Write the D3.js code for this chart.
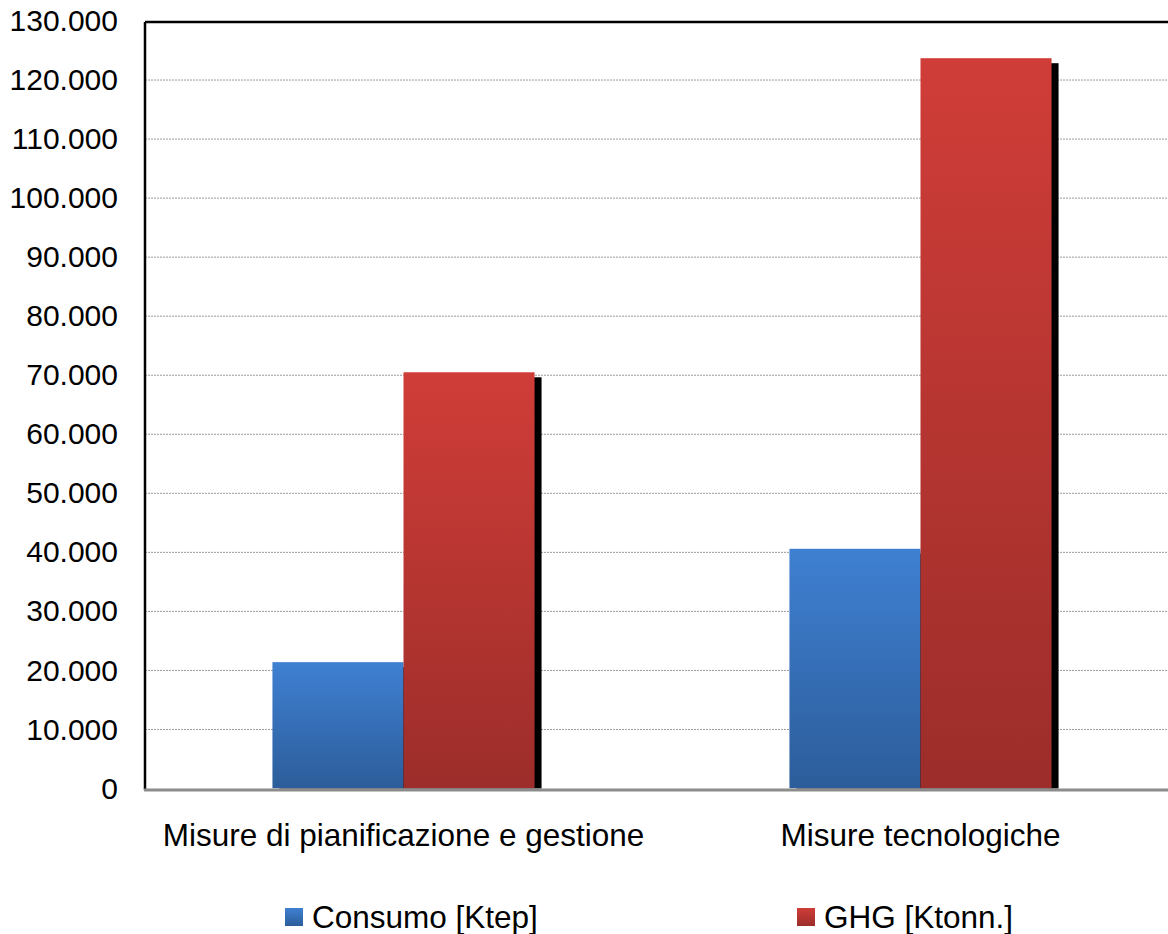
<!DOCTYPE html>
<html>
<head>
<meta charset="utf-8">
<script src="https://cdn.jsdelivr.net/npm/d3@7"></script>
<style>
  html, body { margin: 0; padding: 0; background: #fff; }
  svg { display: block; font-family: "Liberation Sans", Arial, sans-serif; }
</style>
</head>
<body>
<div id="chart"></div>
<script>
const categories = ["Misure di pianificazione e gestione", "Misure tecnologiche"];
const seriesNames = ["Consumo [Ktep]", "GHG [Ktonn.]"];
const consumo = [21400, 40600];
const ghg = [70500, 123700];
const yTicks = [0, 10000, 20000, 30000, 40000, 50000, 60000, 70000, 80000, 90000, 100000, 110000, 120000, 130000];

const W = 1168, H = 934;
const plot = { left: 145, right: 1179, top: 21, bottom: 788.5 };

const locale = d3.formatLocale({ decimal: ",", thousands: ".", grouping: [3], currency: ["€", ""] });
const fmt = locale.format(",d");

const svg = d3.select("#chart").append("svg")
    .attr("width", W)
    .attr("height", H);

const defs = svg.append("defs");
const gradients = [
    { id: "gBlue", top: "#3f80d2", bottom: "#2c5d9a" },
    { id: "gRed", top: "#d03d38", bottom: "#9c2d2a" }
];
gradients.forEach(g => {
    const lg = defs.append("linearGradient")
        .attr("id", g.id)
        .attr("x1", 0).attr("y1", 0).attr("x2", 0).attr("y2", 1);
    lg.append("stop").attr("offset", "0%").attr("stop-color", g.top);
    lg.append("stop").attr("offset", "100%").attr("stop-color", g.bottom);
});
defs.append("clipPath").attr("id", "plotClip")
    .append("rect")
    .attr("x", plot.left).attr("y", 0)
    .attr("width", plot.right - plot.left + 20)
    .attr("height", plot.bottom);

const x0 = d3.scaleBand()
    .domain(categories)
    .range([plot.left, plot.right])
    .paddingInner(0.493)
    .paddingOuter(0.2465);

const x1 = d3.scaleBand()
    .domain(seriesNames)
    .range([0, x0.bandwidth()]);

const y = d3.scaleLinear()
    .domain([0, 130000])
    .range([plot.bottom, plot.top]);

// gridlines
svg.append("g")
    .selectAll("line")
    .data(yTicks.filter(t => t > 0 && t < 130000))
    .join("line")
    .attr("x1", plot.left).attr("x2", W)
    .attr("y1", d => y(d)).attr("y2", d => y(d))
    .attr("stroke", "#9a9a9a")
    .attr("stroke-width", 1)
    .attr("stroke-dasharray", "2,1");

// y axis labels
const yAxis = svg.append("g")
    .attr("transform", `translate(${plot.left},0)`)
    .call(d3.axisLeft(y).tickValues(yTicks).tickFormat(fmt).tickSize(0).tickPadding(27));
yAxis.select(".domain").remove();
yAxis.selectAll("text")
    .attr("fill", "#000")
    .style("font-size", "30px")
    .style("font-family", "'Liberation Sans', Arial, sans-serif");

// bars
const rows = categories.map((c, i) => ({ cat: c, values: [consumo[i], ghg[i]] }));
const fills = ["url(#gBlue)", "url(#gRed)"];

const groups = svg.append("g")
    .attr("clip-path", "url(#plotClip)")
    .selectAll("g")
    .data(rows)
    .join("g")
    .attr("transform", d => `translate(${x0(d.cat)},0)`);

groups.each(function (d) {
    const g = d3.select(this);
    d.values.forEach((v, j) => {
        const bx = x1(seriesNames[j]);
        g.append("rect")
            .attr("x", bx + 7)
            .attr("y", y(v) + 5)
            .attr("width", x1.bandwidth())
            .attr("height", plot.bottom - y(v))
            .attr("fill", "#000");
        g.append("rect")
            .attr("x", bx)
            .attr("y", y(v))
            .attr("width", x1.bandwidth())
            .attr("height", plot.bottom - y(v))
            .attr("fill", fills[j]);
    });
});

// plot border: top and left black, bottom gray axis
svg.append("line")
    .attr("x1", plot.left).attr("x2", W)
    .attr("y1", 22).attr("y2", 22)
    .attr("stroke", "#000").attr("stroke-width", 2.5);
svg.append("line")
    .attr("x1", plot.left).attr("x2", plot.left)
    .attr("y1", 22).attr("y2", 790)
    .attr("stroke", "#000").attr("stroke-width", 2.5);
svg.append("line")
    .attr("x1", plot.left - 1).attr("x2", W)
    .attr("y1", 790).attr("y2", 790)
    .attr("stroke", "#8c8c8c").attr("stroke-width", 3);

// category labels
svg.append("g")
    .selectAll("text")
    .data(categories)
    .join("text")
    .attr("x", d => x0(d) + x0.bandwidth() / 2)
    .attr("y", 846)
    .attr("text-anchor", "middle")
    .style("font-size", "31.5px")
    .text(d => d);

// legend
const legendX = [285, 797];
const legend = svg.append("g")
    .selectAll("g")
    .data(seriesNames)
    .join("g")
    .attr("transform", (d, i) => `translate(${legendX[i]},908)`);
legend.append("rect")
    .attr("width", 18).attr("height", 18)
    .attr("fill", (d, i) => fills[i]);
legend.append("text")
    .attr("x", 27).attr("y", 20)
    .style("font-size", "31.5px")
    .text(d => d);
</script>
</body>
</html>
